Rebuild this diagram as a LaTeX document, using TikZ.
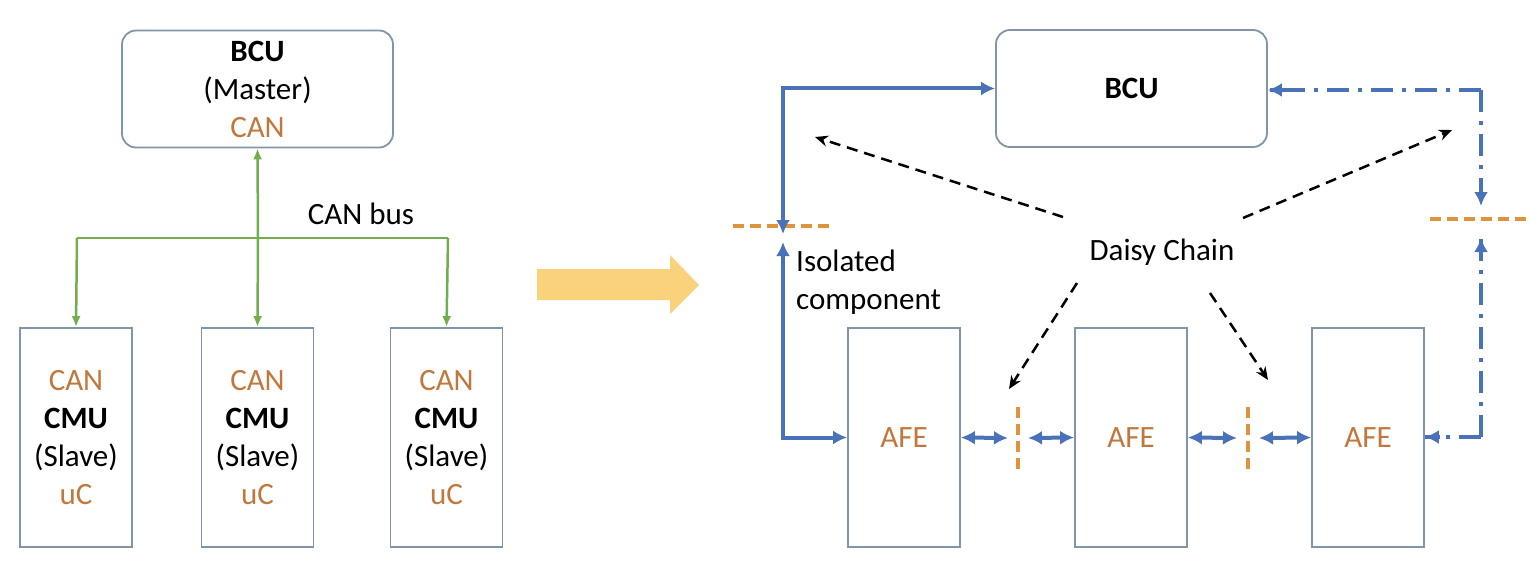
\documentclass[tikz,border=0pt]{standalone}
\usepackage{fontspec}
\setmainfont{Carlito}
\usetikzlibrary{arrows.meta,calc}
\definecolor{boxc}{HTML}{8095AA}
\definecolor{blu}{HTML}{4A72B8}
\definecolor{org}{HTML}{C0783C}
\definecolor{orgl}{HTML}{E0923E}
\definecolor{grn}{HTML}{74AD4E}
\definecolor{yel}{HTML}{FAD27C}
\tikzset{
  x=1pt,y=-1pt,
  txt/.style={font=\fontsize{31}{38}\selectfont, align=center, inner sep=0pt},
  ubox/.style={draw=boxc, line width=1.8pt, minimum width=112pt, minimum height=219pt, inner sep=0pt, txt},
  bcubox/.style={draw=boxc, line width=1.8pt, rounded corners=14pt, minimum width=271pt, minimum height=117pt, inner sep=0pt, txt},
  gline/.style={draw=grn, line width=2.5pt},
  garr/.style={gline, -{Latex[length=11pt,width=9pt]}},
  bline/.style={draw=blu, line width=4pt},
  barr/.style={bline, -{Latex[length=14pt,width=14pt]}},
  bdarr/.style={bline, {Latex[length=14pt,width=14pt]}-{Latex[length=14pt,width=14pt]}},
  bdd/.style={draw=blu, line width=4pt, dash pattern=on 22pt off 9pt on 4pt off 9pt},
  iso/.style={draw=orgl, line width=3.5pt, dash pattern=on 11pt off 6pt},
  darr/.style={draw=black, line width=2.5pt, dash pattern=on 11pt off 7pt, -{Stealth[length=13pt,width=11pt]}},
}
\begin{document}
\begin{tikzpicture}
\useasboundingbox (0,0) rectangle (1531,575);
\fill[white] (0,0) rectangle (1531,575);

% ---------- left side ----------
\node[bcubox] (bcu1) at (257.5,89) {\textbf{BCU}\\(Master)\\\textcolor{org}{CAN}};
\node[ubox] (cmu1) at (76,437.5) {\textcolor{org}{CAN}\\\textbf{CMU}\\(Slave)\\\textcolor{org}{uC}};
\node[ubox] (cmu2) at (257.5,437.5) {\textcolor{org}{CAN}\\\textbf{CMU}\\(Slave)\\\textcolor{org}{uC}};
\node[ubox] (cmu3) at (446.5,437.5) {\textcolor{org}{CAN}\\\textbf{CMU}\\(Slave)\\\textcolor{org}{uC}};
\coordinate (busL) at (77,238);
\coordinate (busM) at (258,238);
\coordinate (busR) at (448,238);
\draw[gline] (busL) -- (busR);
\draw[garr] (busM) -- (bcu1.south);
\draw[garr] (busL) -- (cmu1.north);
\draw[garr] (busM) -- (cmu2.north);
\draw[garr] (busR) -- (cmu3.north);
\node[txt] (canbus) at (361,214) {CAN bus};

% ---------- big arrow ----------
\fill[yel] (537,269) -- (670,269) -- (670,255) -- (699,285) -- (670,314) -- (670,300) -- (537,300) -- cycle;

% ---------- right side ----------
\node[bcubox] (bcu2) at (1131.5,88.5) {\textbf{BCU}};
\node[ubox] (afe1) at (904,437.5) {\textcolor{org}{AFE}};
\node[ubox] (afe2) at (1131,437.5) {\textcolor{org}{AFE}};
\node[ubox] (afe3) at (1368,437.5) {\textcolor{org}{AFE}};

% isolation marks
\coordinate (isoLa) at (733,226); \coordinate (isoLb) at (832,226);
\coordinate (isoRa) at (1430,219); \coordinate (isoRb) at (1530,219);
\coordinate (iso1a) at (1018,407); \coordinate (iso1b) at (1018,470);
\coordinate (iso2a) at (1248,407); \coordinate (iso2b) at (1248,470);
\draw[iso] (isoLa) -- (isoLb);
\draw[iso] (isoRa) -- (isoRb);
\draw[iso] (iso1a) -- (iso1b);
\draw[iso] (iso2a) -- (iso2b);

% left solid path
\coordinate (lTop) at (783,234);
\coordinate (lBot) at (783,242);
\draw[bdarr] (lTop) |- (bcu2.west);
\draw[bdarr] (lBot) |- (afe1.west);
\node[txt, align=left, anchor=west] (isol) at (796,282) {Isolated\\component};

% chain arrows
\coordinate (c1a) at (1008,438); \coordinate (c1b) at (1028,438);
\coordinate (c2a) at (1237,438); \coordinate (c2b) at (1259,438);
\draw[bdarr] (afe1.east) -- (c1a);
\draw[bdarr] (c1b) -- (afe2.west);
\draw[bdarr] (afe2.east) -- (c2a);
\draw[bdarr] (c2b) -- (afe3.west);

% right dash-dot path
\coordinate (rCorner) at (1481,90);
\coordinate (rTop) at (1481,206);
\coordinate (rBot) at (1481,238);
\coordinate (rLow) at (1481,437);
\draw[bdd] (rCorner) -- (bcu2.east |- rCorner);
\draw[barr] ($(bcu2.east |- rCorner)+(15,0)$) -- (bcu2.east |- rCorner);
\draw[bdd] (rCorner) -- (rTop);
\draw[barr] ($(rTop)+(0,-14)$) -- (rTop);
\draw[bdd] (rLow) -- (rBot);
\draw[barr] ($(rBot)+(0,15)$) -- (rBot);
\draw[bdd] (rLow) -- (afe3.east |- rLow);
\draw[barr] ($(afe3.east |- rLow)+(15,0)$) -- (afe3.east |- rLow);

% daisy chain
\node[txt] (dc) at (1162,252) {Daisy Chain};
\coordinate (d1a) at (1063,217); \coordinate (d1b) at (815,137);
\coordinate (d2a) at (1243,218); \coordinate (d2b) at (1452,130);
\coordinate (d3a) at (1077,283); \coordinate (d3b) at (1009,389);
\coordinate (d4a) at (1210,293); \coordinate (d4b) at (1268,380);
\draw[darr] (d1a) -- (d1b);
\draw[darr] (d2a) -- (d2b);
\draw[darr] (d3a) -- (d3b);
\draw[darr] (d4a) -- (d4b);
\end{tikzpicture}
\end{document}
